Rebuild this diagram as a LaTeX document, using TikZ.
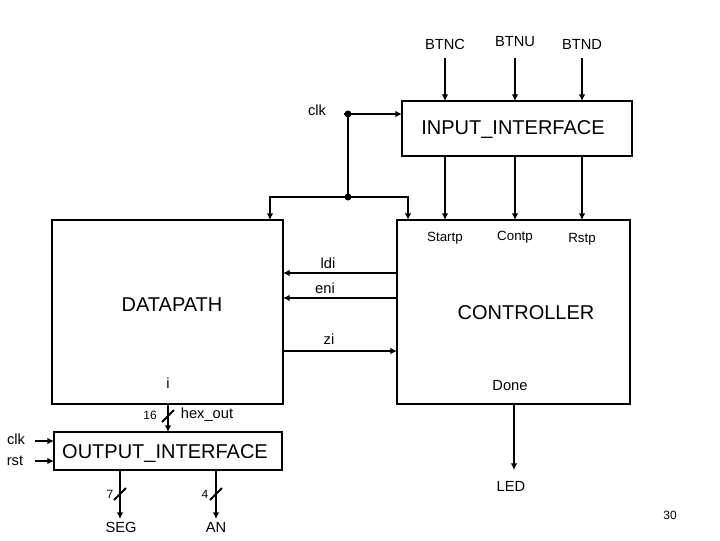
\documentclass[tikz,border=0pt]{standalone}
\usepackage{fontspec}
\setmainfont{Liberation Sans}
\usetikzlibrary{arrows.meta}
\tikzset{
  blk/.style = {draw, line width=2.2pt, inner sep=0pt},
  sig/.style = {line width=2.2pt, -{Latex[length=5pt,width=5pt]}},
  wire/.style = {line width=2.2pt},
  lbl/.style = {font=\fontsize{11}{13}\selectfont, inner sep=0pt},
  big/.style = {font=\fontsize{15}{18}\selectfont, inner sep=0pt},
  sm/.style = {font=\fontsize{9}{11}\selectfont, inner sep=0pt}
}
\begin{document}
\begin{tikzpicture}[x=0.75pt,y=-0.75pt]
\useasboundingbox (0,0) rectangle (720,540);
% blocks
\draw[blk] (402,101) rectangle (632,156);
\draw[blk] (52,220) rectangle (283,404);
\draw[blk] (397,220) rectangle (630,404);
\draw[blk] (54,432) rectangle (282,470);
\node[big] (inp) at (513,129) {INPUT\_INTERFACE};
\node[big] (dp) at (172,305) {DATAPATH};
\node[big] (ctl) at (526,313) {CONTROLLER};
\node[big] (out) at (165,453) {OUTPUT\_INTERFACE};
% buttons
\foreach \x/\t/\y in {445/BTNC/44,515/BTNU/42,582/BTND/44}{
  \node[lbl] (b\t) at (\x,\y) {\t};
  \coordinate (s\t) at (\x,58);
  \coordinate (e\t) at (\x,101);
  \draw[sig] (s\t) -- (e\t);
}
\foreach \x/\t/\y in {445/Startp/238,515/Contp/237,582/Rstp/239}{
  \node[sm,font=\fontsize{10}{12}\selectfont] (l\t) at (\x,\y) {\t};
  \coordinate (s\t) at (\x,156);
  \coordinate (e\t) at (\x,220);
  \draw[sig] (s\t) -- (e\t);
}
% clock
\node[lbl] (clk) at (317,110) {clk};
\coordinate (c0) at (344,114);
\coordinate (c1) at (348,114);
\coordinate (c2) at (348,197);
\coordinate (cl) at (270,197);
\coordinate (cr) at (408,197);
\draw[sig] (c0) -- (402,114);
\draw[wire] (c1) -- (c2);
\draw[sig] (c2) -| (270,220);
\draw[sig] (c2) -| (408,220);
\fill (c1) circle (3.5);
\fill (c2) circle (3.5);
% control signals
\draw[sig] (397,273) -- (283,273);
\node[lbl] (ldi) at (328,263) {ldi};
\draw[sig] (397,298) -- (283,298);
\node[lbl] (eni) at (325,288) {eni};
\draw[sig] (283,351) -- (397,351);
\node[lbl] (zi) at (329,339) {zi};
\node[lbl] (i) at (168,383) {i};
\node[lbl] (done) at (510,386) {Done};
% hex_out
\draw[sig] (168,404) -- (168,432);
\draw[wire,line width=1.5pt] (162,422) -- (174,410);
\node[sm] (n16) at (150,415) {16};
\node[lbl] (hex) at (207,415) {hex\_out};
% LED
\draw[sig] (514,404) -- (514,470);
\node[lbl] (led) at (511,486) {LED};
% clk rst
\node[lbl] (clk2) at (16,439) {clk};
\node[lbl] (rst) at (15,461) {rst};
\draw[sig] (35,441) -- (54,441);
\draw[sig] (35,461) -- (54,461);
% SEG AN
\draw[sig] (120,470) -- (120,519);
\draw[wire,line width=1.5pt] (114,500) -- (126,488);
\node[sm] (n7) at (110,494) {7};
\node[lbl] (seg) at (121,527) {SEG};
\draw[sig] (216,470) -- (216,519);
\draw[wire,line width=1.5pt] (210,500) -- (222,488);
\node[sm] (n4) at (205,494) {4};
\node[lbl] (an) at (216,527) {AN};
\node[sm] (pg) at (670,515) {30};
\end{tikzpicture}
\end{document}
